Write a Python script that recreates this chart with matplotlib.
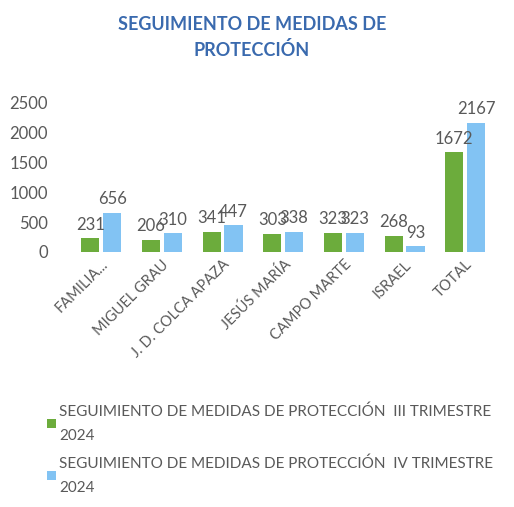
import numpy as np
import matplotlib
matplotlib.use("Agg")
import matplotlib.pyplot as plt

plt.rcParams["font.family"] = ["Lato", "DejaVu Sans"]

CATEGORIES = [
	"FAMILIA...",
	"MIGUEL GRAU",
	"J. D. COLCA APAZA",
	"JESÚS MARÍA",
	"CAMPO MARTE",
	"ISRAEL",
	"TOTAL",
]
III_TRIM = [231, 206, 341, 303, 323, 268, 1672]
IV_TRIM = [656, 310, 447, 338, 323, 93, 2167]
SERIES_LABELS = [
	"SEGUIMIENTO DE MEDIDAS DE PROTECCIÓN  III TRIMESTRE\n2024",
	"SEGUIMIENTO DE MEDIDAS DE PROTECCIÓN  IV TRIMESTRE\n2024",
]

GREEN = "#6cac3c"
BLUE = "#82c3f3"
GRAY = "#595959"
TITLE_BLUE = "#3a6aae"

fig = plt.figure(figsize=(5.14, 5.07), dpi=100)
ax = fig.add_axes([0.126, 0.503, 0.85, 0.294])

x = np.arange(len(CATEGORIES))
w = 0.3
bars_a = ax.bar(x - 0.18, III_TRIM, width=w, color=GREEN, label=SERIES_LABELS[0])
bars_b = ax.bar(x + 0.18, IV_TRIM, width=w, color=BLUE, label=SERIES_LABELS[1])

for bars in (bars_a, bars_b):
	for rect in bars:
		h = rect.get_height()
		ax.annotate(f"{int(h)}", (rect.get_x() + rect.get_width() / 2, h),
			xytext=(0, 4), textcoords="offset points", ha="center", va="bottom",
			fontsize=12, color=GRAY, annotation_clip=False)

ax.set_ylim(0, 2500)
ax.set_xlim(-0.6, len(CATEGORIES) - 0.4)
ax.set_yticks([0, 500, 1000, 1500, 2000, 2500])
ax.set_xticks(x)
ax.set_xticklabels(CATEGORIES, rotation=45, ha="right", rotation_mode="anchor")
ax.tick_params(axis="both", length=0, colors=GRAY)
ax.tick_params(axis="y", labelsize=12, pad=12)
ax.tick_params(axis="x", labelsize=10.5, pad=4)
for s in ax.spines.values():
	s.set_visible(False)

fig.text(0.49, 0.926, "SEGUIMIENTO DE MEDIDAS DE\nPROTECCIÓN", ha="center", va="center",
	fontsize=13, fontweight="bold", color=TITLE_BLUE, linespacing=1.5)

leg = fig.legend(loc="upper left", bbox_to_anchor=(0.065, 0.23), frameon=False,
	fontsize=11, labelcolor=GRAY, handlelength=0.55, handleheight=0.55,
	handletextpad=0.25, labelspacing=0.9)
for t in leg.get_texts():
	t.set_linespacing(1.9)

fig.savefig("out.png", dpi=100)
